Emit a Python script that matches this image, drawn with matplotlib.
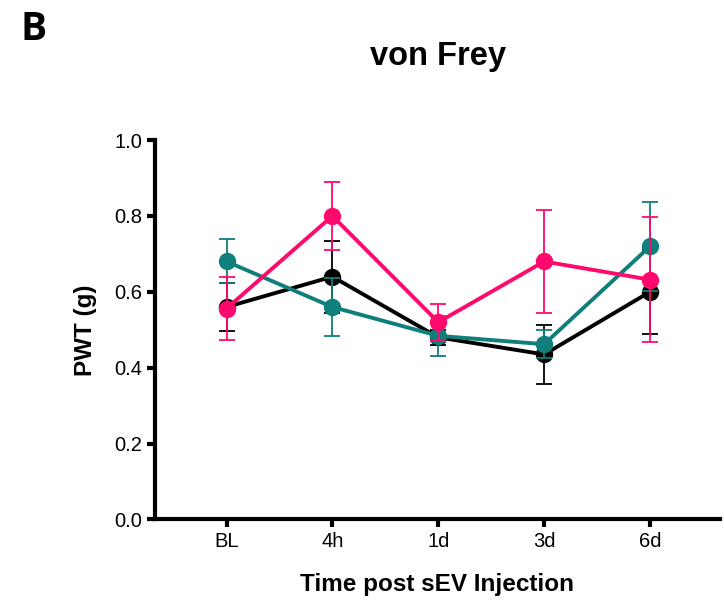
import numpy as np
import matplotlib.pyplot as plt

plt.rcParams['font.family'] = ['Liberation Sans', 'DejaVu Sans']

### Time points and group means / SEM
timepoints = ['BL', '4h', '1d', '3d', '6d']
black_mean = [0.56, 0.64, 0.48, 0.435, 0.60]
black_err = [0.063, 0.095, 0.02, 0.078, 0.11]
teal_mean = [0.68, 0.56, 0.484, 0.462, 0.72]
teal_err = [0.058, 0.076, 0.052, 0.037, 0.118]
pink_mean = [0.556, 0.80, 0.52, 0.68, 0.632]
pink_err = [0.084, 0.089, 0.049, 0.135, 0.165]

groups = [(black_mean, black_err, 'black'),
          (teal_mean, teal_err, '#0f7f7c'),
          (pink_mean, pink_err, '#ff0a6c')]

fig = plt.figure(figsize=(7.24, 6.09), dpi=100)
ax = fig.add_axes([0.2134, 0.147, 0.781, 0.623])

xpts = np.arange(len(timepoints))
for i, (mean, err, col) in enumerate(groups):
	ax.errorbar(xpts, mean, yerr=err, color=col, marker='o', markersize=11.5,
		linewidth=2.8, elinewidth=1.3, capsize=6, capthick=1.3, zorder=3+i)

ax.set_xlim(-0.68, 4.66)
ax.set_ylim(0, 1.0)
ax.set_yticks(np.arange(0, 1.01, 0.2))
ax.set_yticklabels(['%.1f' % v for v in np.arange(0, 1.01, 0.2)])
ax.set_xticks(xpts)
ax.set_xticklabels(timepoints)

for side in ['top', 'right']:
	ax.spines[side].set_visible(False)
for side in ['left', 'bottom']:
	ax.spines[side].set_linewidth(3)
	ax.spines[side].set_capstyle('projecting')
ax.tick_params(width=3, length=6, labelsize=14.5, pad=3)

ax.set_ylabel('PWT (g)', fontsize=17.5, fontweight='bold', labelpad=12)
ax.set_xlabel('Time post sEV Injection', fontsize=17.5, fontweight='bold', labelpad=16)
fig.text(0.605, 0.907, 'von Frey', fontsize=23.5, fontweight='bold', ha='center', va='center')
fig.text(0.046, 0.952, 'B', fontsize=28, fontweight='bold', ha='center', va='center',
	family='Open Sans')

fig.savefig('out.png', dpi=100)
